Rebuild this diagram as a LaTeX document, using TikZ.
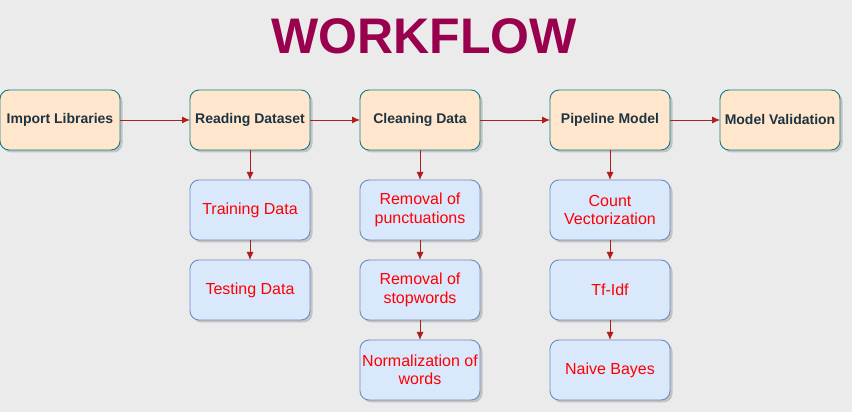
\documentclass[tikz,border=0pt]{standalone}
\usepackage{fontspec}
\setmainfont{Liberation Sans}
\usetikzlibrary{positioning, shadows, arrows.meta}

\definecolor{bgc}{HTML}{EBEBEB}
\definecolor{titlec}{HTML}{99004D}
\definecolor{peach}{HTML}{FFE6CC}
\definecolor{tealc}{HTML}{0E8088}
\definecolor{darkc}{HTML}{1C3443}
\definecolor{bluef}{HTML}{DAE8FC}
\definecolor{bluec}{HTML}{6C8EBF}
\definecolor{arrc}{HTML}{B01E1E}

\tikzset{
  box/.style={rectangle, rounded corners=9pt, minimum width=120pt, minimum height=60pt, inner sep=2pt, outer sep=0pt, align=center, line width=0.9pt,
    drop shadow={shadow xshift=2.5pt, shadow yshift=-2.5pt, fill=black!70, opacity=0.25}},
  mainbox/.style={box, draw=tealc, fill=peach, text=darkc, font=\fontsize{14}{16}\selectfont\bfseries},
  subbox/.style={box, draw=bluec, fill=bluef, text=red, font=\fontsize{16}{18.5}\selectfont},
  arr/.style={->, draw=arrc, line width=0.9pt}
}

\begin{document}
\begin{tikzpicture}[x=1pt, y=1pt, >={Latex[length=8pt, width=7pt]}]

\fill[bgc] (0,0) rectangle (852,412);
\useasboundingbox (0,0) rectangle (852,412);

\node[anchor=base, text=titlec, font=\fontsize{50}{56}\selectfont\bfseries] (title) at (424,358) {WORKFLOW};

% main row
\node[mainbox] (imp) at (60,292) {Import Libraries};
\node[mainbox, right=70pt of imp] (read) {Reading Dataset};
\node[mainbox, right=50pt of read] (clean) {Cleaning Data};
\node[mainbox, right=70pt of clean] (pipe) {Pipeline Model};
\node[mainbox, right=50pt of pipe] (valid) {Model Validation};

% reading
\node[subbox, below=30pt of read] (train) {Training Data};
\node[subbox, below=20pt of train] (test) {Testing Data};

% cleaning
\node[subbox, below=30pt of clean] (punct) {Removal of\\punctuations};
\node[subbox, below=20pt of punct] (stop) {Removal of\\stopwords};
\node[subbox, below=20pt of stop] (norm) {Normalization of\\words};

% pipeline
\node[subbox, below=30pt of pipe] (count) {Count\\Vectorization};
\node[subbox, below=20pt of count] (tfidf) {Tf-Idf};
\node[subbox, below=20pt of tfidf] (bayes) {Naive Bayes};

\draw[arr] (imp) -- (read);
\draw[arr] (read) -- (clean);
\draw[arr] (clean) -- (pipe);
\draw[arr] (pipe) -- (valid);

\draw[arr] (read) -- (train);
\draw[arr] (train) -- (test);
\draw[arr] (clean) -- (punct);
\draw[arr] (punct) -- (stop);
\draw[arr] (stop) -- (norm);
\draw[arr] (pipe) -- (count);
\draw[arr] (count) -- (tfidf);
\draw[arr] (tfidf) -- (bayes);

\end{tikzpicture}
\end{document}
